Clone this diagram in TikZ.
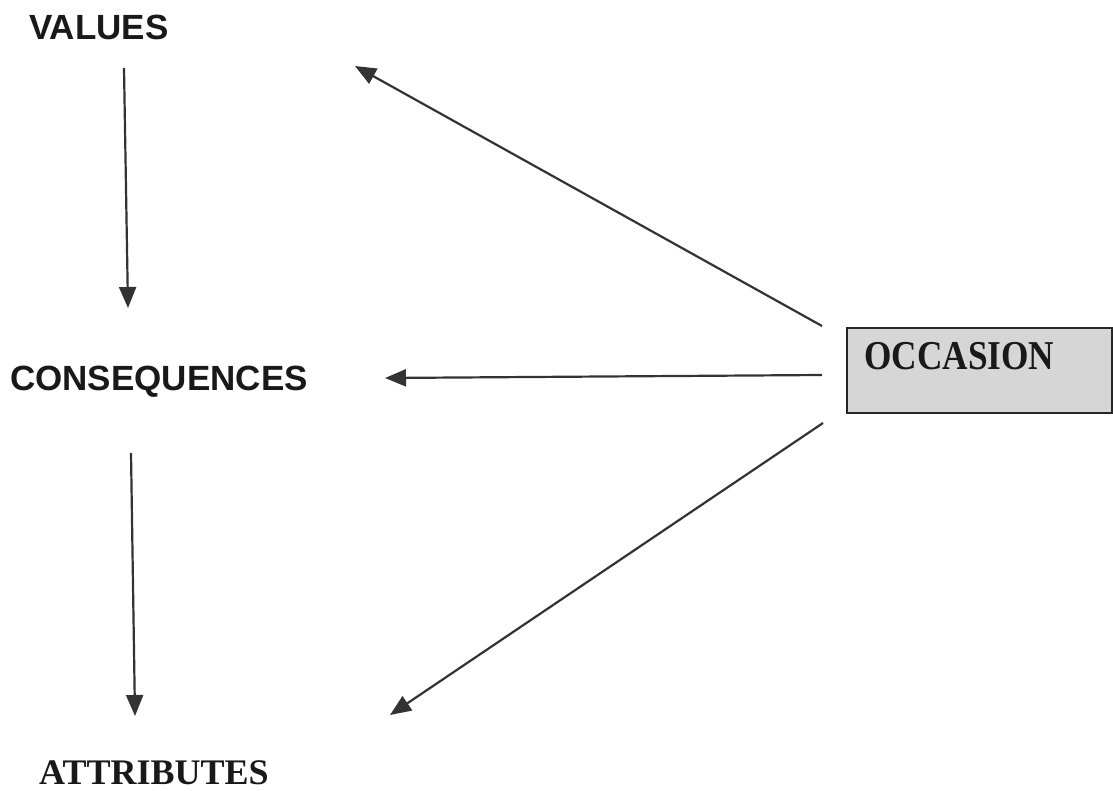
\documentclass[tikz,border=0pt]{standalone}
\usepackage{fontspec}
\setmainfont{Liberation Serif}
\newfontfamily\arialf{Liberation Sans}
\newfontfamily\timesf{Liberation Serif}
\usetikzlibrary{arrows.meta}
\definecolor{lineC}{HTML}{333333}
\definecolor{boxC}{HTML}{D6D6D6}
\begin{document}
\begin{tikzpicture}[x=1pt,y=-1pt,
  conn/.style={draw=lineC,line width=2.2pt,-{Triangle[length=21pt,width=17pt]}},
  sanslabel/.style={inner sep=0pt,anchor=base west,font=\arialf\bfseries\fontsize{35}{40}\selectfont,text=black!90},
  seriflabel/.style={inner sep=0pt,anchor=base west,font=\timesf\bfseries\fontsize{36}{40}\selectfont,text=black!90}]
\useasboundingbox (0,0) rectangle (1113,791);
% labels
\node[sanslabel] (values) at (29,40) {VALUES};
\node[sanslabel] (cons) at (10,390) {CONSEQUENCES};
\node[seriflabel] (attr) at (39,784) {ATTRIBUTES};
% occasion box
\node[draw=black!85,line width=1.8pt,fill=boxC,minimum width=265pt,minimum height=85pt,anchor=north west,inner sep=0pt] (occ) at (846,327) {};
\node[inner sep=0pt,anchor=base west,font=\timesf\bfseries\fontsize{41}{44}\selectfont,text=black!90] (occt) at (864,370) {\scalebox{0.86}[1]{OCCASION}};
% connector endpoints
\coordinate (v1) at (124,68);
\coordinate (v2) at (128,308);
\coordinate (c1) at (131,453);
\coordinate (c2) at (135,716);
\coordinate (o1) at (822,326);
\coordinate (o2) at (822,375);
\coordinate (o3) at (823,423);
\coordinate (t1) at (355,66);
\coordinate (t2) at (385,378);
\coordinate (t3) at (390,715);
\draw[conn] (v1) -- (v2);
\draw[conn] (c1) -- (c2);
\draw[conn] (o1) -- (t1);
\draw[conn] (o2) -- (t2);
\draw[conn] (o3) -- (t3);
\end{tikzpicture}
\end{document}
